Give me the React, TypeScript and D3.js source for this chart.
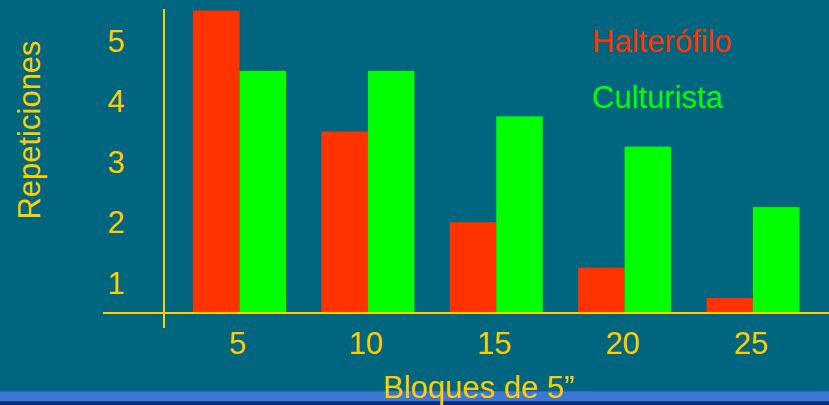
import React from "react";
import * as d3 from "d3";

// Repeticiones por bloque de 5 segundos
const bloques = ["5", "10", "15", "20", "25"];
const halterofilo = [5, 3, 1.5, 0.75, 0.25];
const culturista = [4, 4, 3.25, 2.75, 1.75];
const yTicks = [1, 2, 3, 4, 5];
const seriesNames = ["Halterófilo", "Culturista"];

const W = 829;
const H = 405;
const BG = "#00657f";
const GOLD = "#ffcc00";
const RED = "#ff3300";
const GREEN = "#00ff00";
const FONT = "'Liberation Sans', Arial, sans-serif";

export default function App() {
  const x = d3.scalePoint<string>().domain(bloques).range([239.5, 753]);
  const y = d3.scaleLinear().domain([0, 5]).range([313, 10.5]);
  const barW = 46.5;
  const axisX = 164;
  const axisY = y(0);

  return (
    <svg
      width={W}
      height={H}
      style={{ position: "absolute", left: 0, top: 0, display: "block" }}
      fontFamily={FONT}
    >
      <defs>
        <linearGradient id="strip" x1="0" y1="0" x2="0" y2="1">
          <stop offset="0" stopColor="#2c62b4" />
          <stop offset="0.08" stopColor="#3c78d4" />
          <stop offset="0.7" stopColor="#3c78d4" />
          <stop offset="0.76" stopColor="#0e2f88" />
          <stop offset="1" stopColor="#0a2676" />
        </linearGradient>
      </defs>
      <rect x={0} y={0} width={W} height={H} fill={BG} />
      <rect x={0} y={391} width={W} height={H - 391} fill="url(#strip)" />

      {/* bars */}
      {bloques.map((b, i) => (
        <g key={b}>
          <rect
            x={(x(b) as number) - barW}
            y={y(halterofilo[i])}
            width={barW}
            height={axisY - y(halterofilo[i])}
            fill={RED}
          />
          <rect
            x={x(b) as number}
            y={y(culturista[i])}
            width={barW}
            height={axisY - y(culturista[i])}
            fill={GREEN}
          />
        </g>
      ))}

      {/* axes */}
      <line x1={103} x2={W} y1={axisY} y2={axisY} stroke={GOLD} strokeWidth={2} />
      <line x1={axisX} x2={axisX} y1={9} y2={328} stroke={GOLD} strokeWidth={2} />

      {/* y tick labels, centred in each unit band */}
      {yTicks.map((t) => (
        <text
          key={t}
          x={116}
          y={y(t - 0.5)}
          dy="0.36em"
          textAnchor="middle"
          fontSize={31}
          fill={GOLD}
        >
          {t}
        </text>
      ))}

      {/* x tick labels */}
      {bloques.map((b) => (
        <text
          key={b}
          x={(x(b) as number) - 2}
          y={354}
          textAnchor="middle"
          fontSize={31}
          fill={GOLD}
        >
          {b}
        </text>
      ))}

      {/* axis titles */}
      <text
        transform="translate(40,130) rotate(-90)"
        textAnchor="middle"
        fontSize={31}
        fill={GOLD}
      >
        Repeticiones
      </text>
      <text x={383} y={397.5} fontSize={31} fill={GOLD}>
        Bloques de 5”
      </text>

      {/* legend */}
      <text x={592} y={52} fontSize={31} fill={RED}>
        {seriesNames[0]}
      </text>
      <text x={592} y={108} fontSize={31} fill={GREEN}>
        {seriesNames[1]}
      </text>
    </svg>
  );
}
